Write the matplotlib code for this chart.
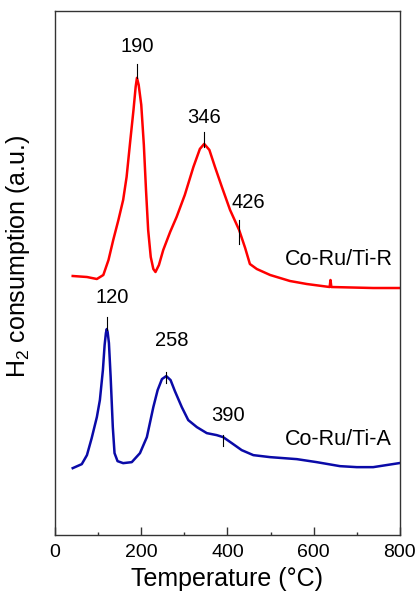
import matplotlib.pyplot as plt
from matplotlib.ticker import MultipleLocator

plt.rcParams['font.family'] = ['Liberation Sans', 'DejaVu Sans']
plt.rcParams['mathtext.fontset'] = 'custom'
plt.rcParams['mathtext.rm'] = 'Liberation Sans'
plt.rcParams['mathtext.it'] = 'Liberation Sans:italic'

# Co-Ru/Ti-R trace (temperature in C, signal in arbitrary units)
temp_r = [41, 74, 97, 112, 124, 135, 147, 158, 166, 174, 182, 187, 190, 194,
          200, 206, 211, 216, 222, 228, 233, 241, 251, 267, 282, 301, 321, 336,
          346, 358, 371, 387, 406, 427, 441, 452, 468, 499, 545, 584, 637,
          639, 641, 738, 798]
sig_r = [259, 258, 256, 260, 275, 295, 315, 335, 358, 392, 425, 448, 457, 450,
         430, 390, 345, 305, 278, 266, 263, 270, 285, 303, 318, 340, 368, 386,
         391, 385, 368, 348, 325, 305, 287, 271, 266, 260, 254, 251, 248,
         255, 248, 247, 247]

# Co-Ru/Ti-A trace
temp_a = [41, 62, 74, 85, 97, 104, 111, 115, 118, 120, 122, 125, 129, 134, 138,
          145, 158, 178, 197, 213, 228, 238, 248, 258, 268, 278, 294, 309, 329,
          352, 375, 390, 410, 433, 460, 499, 561, 607, 661, 700, 738, 798]
sig_a = [67, 71, 80, 97, 118, 135, 165, 190, 202, 206, 203, 192, 158, 108, 82,
         74, 72, 73, 82, 98, 128, 145, 156, 159, 155, 144, 128, 115, 108,
         102, 100, 98, 92, 85, 80, 78, 76, 73, 69, 68, 68, 72]

# peak annotations: (label, peak temperature, text x, text y, tick y0, tick y1)
peaks_r = [("190", 190, 190, 488, 457, 471),
           ("346", 346, 346, 417, 388, 403),
           ("426", 426, 448, 332, 291, 315)]
peaks_a = [("120", 120, 132, 238, 205, 218),
           ("258", 258, 271, 195, 152, 163),
           ("390", 390, 401, 120, 89, 100)]

fig = plt.figure(figsize=(4.17, 6.0), dpi=100)
ax = fig.add_axes([0.132, 0.108, 0.827, 0.874])

ax.plot(temp_r, sig_r, color='#ff0000', lw=1.8, solid_joinstyle='round')
ax.plot(temp_a, sig_a, color='#0a0aa8', lw=1.8, solid_joinstyle='round')

for lab, t, tx, ty, y0, y1 in peaks_r + peaks_a:
    ax.plot([t, t], [y0, y1], color='black', lw=0.8)
    ax.text(tx, ty, lab, ha='center', va='center', fontsize=14.5)

ax.text(784, 275, "Co-Ru/Ti-R", ha='right', va='center', fontsize=15.5)
ax.text(781, 96, "Co-Ru/Ti-A", ha='right', va='center', fontsize=15.5)

ax.set_xlim(0, 800)
ax.set_ylim(0, 524)
ax.xaxis.set_major_locator(MultipleLocator(200))
ax.xaxis.set_minor_locator(MultipleLocator(100))
ax.tick_params(axis='x', which='major', direction='in', length=5.5,
               width=1, labelsize=14, pad=6, color='#333333')
ax.tick_params(axis='x', which='minor', direction='in', length=2.5,
               width=1, color='#333333')
ax.set_yticks([])
for s in ax.spines.values():
    s.set_color('#333333')
    s.set_linewidth(1)

ax.set_xlabel("Temperature (°C)", fontsize=18, labelpad=5)
fig.text(0.043, 0.572, "H$_2$ consumption (a.u.)", rotation=90,
         ha='center', va='center', fontsize=18)

fig.savefig("out.png", dpi=100)
